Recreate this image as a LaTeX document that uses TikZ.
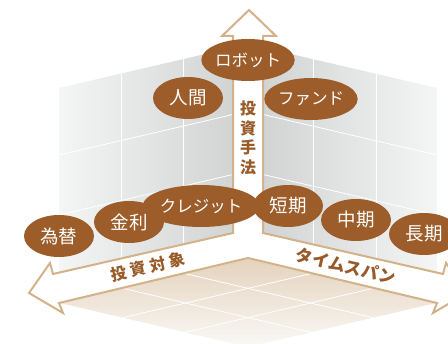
\documentclass[tikz,border=0pt]{standalone}
\usepackage{fontspec}
\setmainfont{Noto Sans CJK JP}
\usetikzlibrary{shapes.geometric}
\definecolor{brownfill}{RGB}{156,93,43}
\definecolor{arrowtan}{RGB}{211,178,138}
\definecolor{labelbrown}{RGB}{152,90,40}
\definecolor{wallLight}{RGB}{244,245,245}
\definecolor{wallDark}{RGB}{207,209,209}
\definecolor{floorTop}{RGB}{228,211,189}
\definecolor{floorBot}{RGB}{250,249,247}
\tikzset{
  gridline/.style={white, line width=0.8pt},
  bubble/.style={ellipse, fill=brownfill, text=white, minimum width=70pt, minimum height=42pt, inner sep=0pt},
  kanji/.style={font=\fontsize{18.5}{20}\selectfont},
  kana/.style={font=\fontsize{16.5}{18}\selectfont},
  axislabel/.style={text=labelbrown, font=\fontsize{16}{19.7}\selectfont\bfseries, inner sep=0pt},
  bigarrow/.style={draw=arrowtan, line width=2pt, fill=white, line join=miter}
}
\begin{document}
\begin{tikzpicture}[x=1pt,y=-1pt]
\useasboundingbox (0,0) rectangle (448,344);
\clip (0,0) rectangle (448,344);
% walls
\shade[left color=wallLight, right color=wallDark] (59,88) -- (248,44) -- (248,233) -- (59,277) -- cycle;
\shade[left color=wallDark, right color=wallLight] (248,44) -- (437,88) -- (437,277) -- (248,233) -- cycle;
\draw[gridline] (121,73.6) -- (121,262.6);
\draw[gridline] (183,59.1) -- (183,248.1);
\draw[gridline] (313,59.1) -- (313,248.1);
\draw[gridline] (376,73.8) -- (376,262.8);
\draw[gridline] (59,155) -- (248,111) -- (437,155);
\draw[gridline] (59,215) -- (248,171) -- (437,215);
% floor
\shade[top color=floorTop, bottom color=floorBot] (248,259) -- (436,303) -- (248,347) -- (60,303) -- cycle;
\draw[gridline] (310.7,273.7) -- (122.7,317.7);
\draw[gridline] (373.3,288.3) -- (185.3,332.3);
\draw[gridline] (185.3,273.7) -- (373.3,317.7);
\draw[gridline] (122.7,288.3) -- (310.7,332.3);
% arrows
\draw[bigarrow] (249,10) -- (276,36) -- (263,36) -- (263,233) -- (443,274) -- (446,263) -- (467,293) -- (433,313) -- (437,303) -- (248,258) -- (59,303) -- (63,313) -- (29,293) -- (50,263) -- (53,274) -- (233,233) -- (233,36) -- (222,36) -- cycle;
% axis labels
\node[axislabel, align=center] (vlab) at (248,138) {投\\資\\手\\法};
\node[axislabel, rotate=13] (llab) at (148,267) {投\hspace{4pt}資\hspace{4pt}対\hspace{4pt}象};
\node[axislabel, rotate=-13, font=\fontsize{17}{19}\selectfont\bfseries] (rlab) at (346,266) {タイムスパン};
% bubbles
\node[bubble, kana] (robot) at (248,60) {ロボット};
\node[bubble, kanji] (human) at (188,98) {人間};
\node[bubble, kana] (fund) at (311,99) {ファンド};
\node[bubble, kana, minimum width=78pt] (credit) at (201,206) {クレジット};
\node[bubble, kanji] (rate) at (129,222) {金利};
\node[bubble, kanji] (fx) at (59,236) {為替};
\node[bubble, kanji] (short) at (288,206) {短期};
\node[bubble, kanji] (mid) at (356,220) {中期};
\node[bubble, kanji] (long) at (424,234) {長期};
\end{tikzpicture}
\end{document}
